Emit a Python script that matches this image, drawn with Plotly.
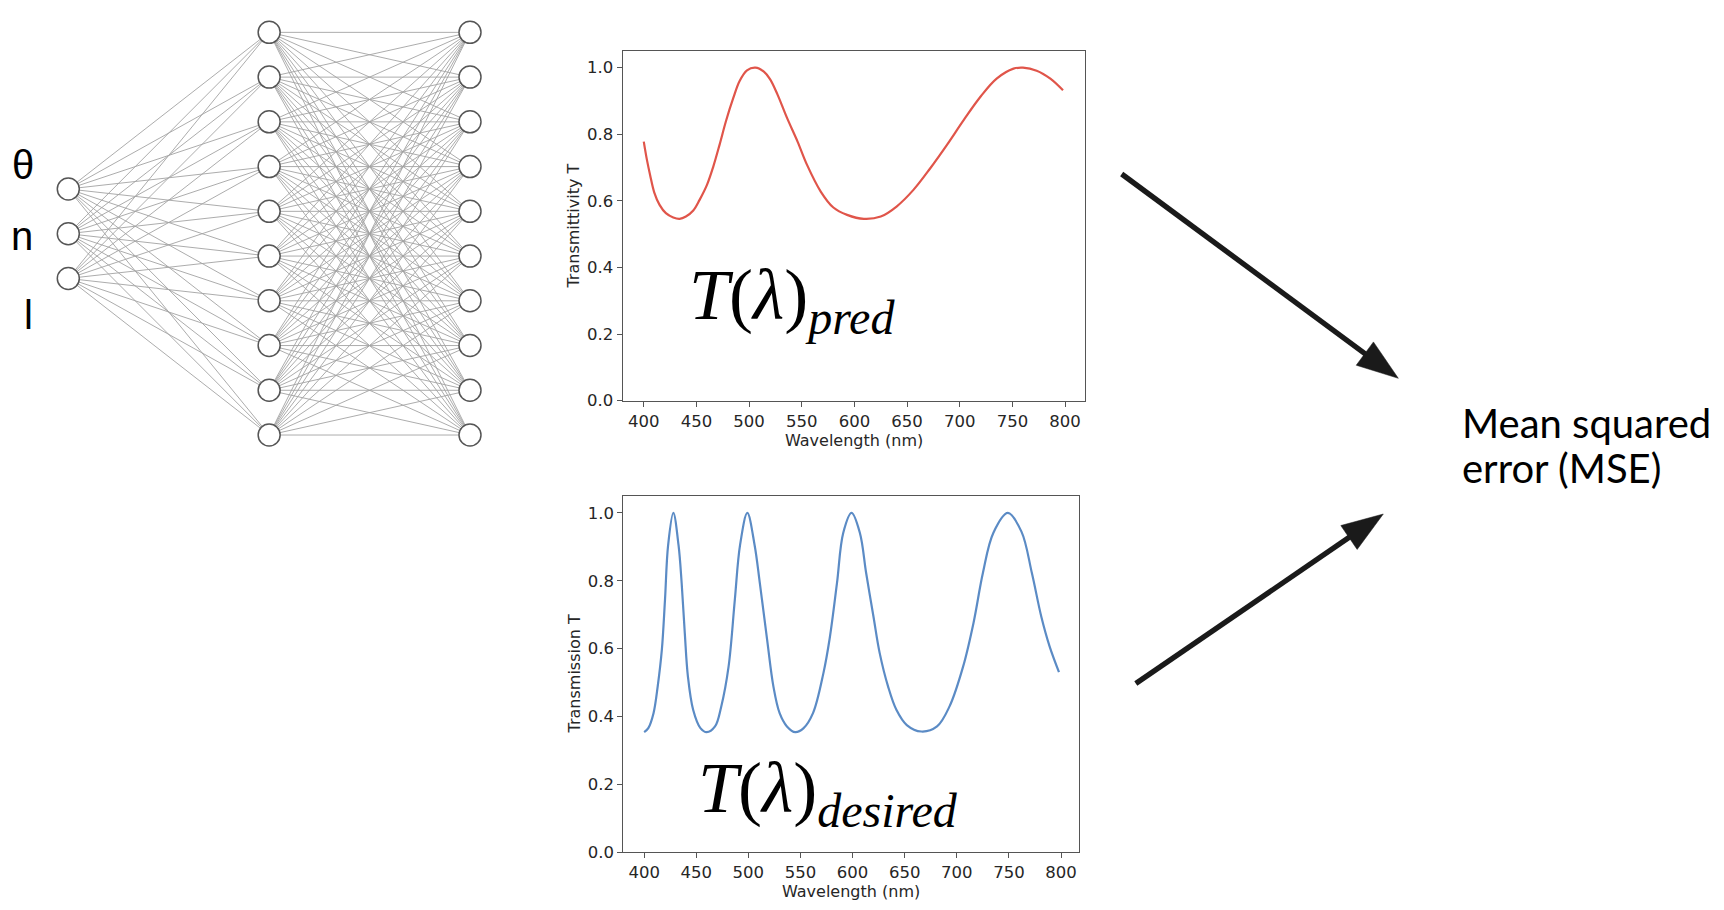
import math
import plotly.graph_objects as go

# predicted transmittivity (top panel)
wl_pred = [400, 403, 406, 410, 415, 421, 428, 434, 440, 447,
           453, 460, 466, 472, 478, 485, 491, 498, 506, 514,
           520, 527, 536, 546, 555, 568, 580, 593, 609, 625,
           640, 656, 672, 688, 704, 720, 735, 751, 760, 773,
           786, 798]
t_pred = [0.778, 0.723, 0.678, 0.625, 0.588, 0.563, 0.550, 0.546, 0.553, 0.571,
          0.603, 0.648, 0.703, 0.769, 0.839, 0.909, 0.960, 0.992, 1.0, 0.988,
          0.965, 0.919, 0.849, 0.778, 0.708, 0.628, 0.580, 0.558, 0.546, 0.553,
          0.583, 0.633, 0.698, 0.769, 0.844, 0.914, 0.967, 0.997, 1.0, 0.991,
          0.967, 0.932]

# desired transmission (bottom panel)
wl_desired = [400, 404, 409, 413, 417, 420, 423, 428, 433, 436,
              439, 442, 447, 454, 460, 468, 474, 481, 487, 492,
              499, 506, 511, 518, 524, 530, 537, 545, 553, 562,
              572, 578, 585, 591, 599, 607, 613, 620, 626, 634,
              642, 652, 666, 681, 693, 706, 716, 725, 735, 749,
              762, 772, 781, 789, 798]
t_desired = [0.354, 0.366, 0.41, 0.489, 0.597, 0.744, 0.905, 1.0, 0.905, 0.793,
             0.646, 0.518, 0.42, 0.366, 0.354, 0.371, 0.43, 0.547, 0.744, 0.905,
             1.0, 0.905, 0.793, 0.626, 0.489, 0.41, 0.371, 0.354, 0.366, 0.41,
             0.528, 0.63, 0.793, 0.941, 1.0, 0.941, 0.823, 0.695, 0.587, 0.489,
             0.42, 0.375, 0.356, 0.371, 0.43, 0.547, 0.676, 0.823, 0.941, 1.0,
             0.945, 0.823, 0.695, 0.607, 0.531]

x_ticks = [400, 450, 500, 550, 600, 650, 700, 750, 800]
y_ticks = [0.0, 0.2, 0.4, 0.6, 0.8, 1.0]

# network: input layer + two hidden layers
layer_sizes = [3, 10, 10]
input_names = ["θ", "n", "l"]

# positions below are measured on a 1724x910 picture; the page comes out a
# little taller than the window, so the figure is made 920 high to make up
W, H = 1724, 920
REF_W, REF_H = 1724, 910


def px(x):
    return x / REF_W


def py(y):
    return 1 - y / REF_H


fig = go.Figure()

# --- network edges and nodes
ex, ey = [], []
for l in range(len(layer_sizes) - 1):
    na, nb = layer_sizes[l], layer_sizes[l + 1]
    for a in range(na):
        for b in range(nb):
            ex += [l, l + 1, None]
            ey += [a - (na - 1) / 2, b - (nb - 1) / 2, None]
fig.add_trace(go.Scatter(x=ex, y=ey, mode="lines", xaxis="x3", yaxis="y3",
                         line=dict(color="#a3a3a3", width=0.9),
                         hoverinfo="skip", cliponaxis=False))

nx_, ny_ = [], []
for l, n in enumerate(layer_sizes):
    for i in range(n):
        nx_.append(l)
        ny_.append(i - (n - 1) / 2)
fig.add_trace(go.Scatter(x=nx_, y=ny_, mode="markers", xaxis="x3", yaxis="y3",
                         marker=dict(size=22, color="white",
                                     line=dict(color="#555555", width=1.5)),
                         hoverinfo="skip", cliponaxis=False))

# --- spectra
fig.add_trace(go.Scatter(x=wl_pred, y=t_pred, mode="lines",
                         line=dict(color="#e0554a", width=2.2, shape="spline", smoothing=1.0),
                         xaxis="x", yaxis="y"))
fig.add_trace(go.Scatter(x=wl_desired, y=t_desired, mode="lines",
                         line=dict(color="#5b8bc5", width=2.2, shape="spline", smoothing=1.0),
                         xaxis="x2", yaxis="y2"))

tick_font = dict(family="DejaVu Sans", size=16.5, color="#262626")
ax_style = dict(showline=True, linecolor="#555555", linewidth=1.2, mirror=True,
                ticks="outside", ticklen=5, tickwidth=1.2, tickcolor="#555555",
                showgrid=False, zeroline=False, tickfont=tick_font, fixedrange=True)

# network axes: 1 layer = 200.85 px, 1 node step = 44.74 px, centre row at y=233.7
layer_px, node_px, net_cx, net_cy = 200.85, 44.74, 68.3, 233.7
net_x0 = -net_cx / layer_px
net_y_top = -net_cy / node_px
net_y_bot = (REF_H - net_cy) / node_px

fig.update_layout(
    width=W, height=H,
    margin=dict(l=0, r=0, t=0, b=0),
    paper_bgcolor="white", plot_bgcolor="white",
    showlegend=False,
    xaxis=dict(domain=[px(622.7), px(1084.6)], range=[380, 818.5], anchor="y",
               tickvals=x_ticks, **ax_style),
    yaxis=dict(domain=[py(400.7), py(51)], range=[0, 1.05], anchor="x",
               tickvals=y_ticks, tickformat=".1f", **ax_style),
    xaxis2=dict(domain=[px(623.3), px(1079.3)], range=[380, 817.5], anchor="y2",
                tickvals=x_ticks, **ax_style),
    yaxis2=dict(domain=[py(852.3), py(496)], range=[0, 1.05], anchor="x2",
                tickvals=y_ticks, tickformat=".1f", **ax_style),
    xaxis3=dict(domain=[0, 0.3], range=[net_x0, net_x0 + 0.3 * REF_W / layer_px],
                visible=False, anchor="y3", fixedrange=True),
    yaxis3=dict(domain=[0, 1], range=[net_y_bot, net_y_top], visible=False,
                anchor="x3", fixedrange=True),
)

title_font = dict(family="DejaVu Sans", size=16, color="#262626")
for xr, yr, ytitle in [("x", "y", "Transmittivity T"), ("x2", "y2", "Transmission T")]:
    fig.add_annotation(text="Wavelength (nm)", xref=xr + " domain", yref=yr + " domain",
                       x=0.5, y=0, yshift=-39.4, showarrow=False,
                       xanchor="center", yanchor="middle", font=title_font)
    fig.add_annotation(text=ytitle, xref=xr + " domain", yref=yr + " domain",
                       x=0, y=0.5, xshift=-49, textangle=-90, showarrow=False,
                       xanchor="center", yanchor="middle", font=title_font)

# formula labels inside the panels
math_font = dict(family="Liberation Serif", size=72, color="black")
sub_style = '<span style="font-size:48px">{}</span>'
fig.add_annotation(text="<i>T</i>(<i>λ</i>)<sub><i>" + sub_style.format("pred") + "</i></sub>",
                   xref="paper", yref="paper", x=px(688), y=py(300),
                   xanchor="left", yanchor="middle", showarrow=False,
                   borderpad=0, font=math_font)
fig.add_annotation(text="<i>T</i>(<i>λ</i>)<sub><i>" + sub_style.format("desired") + "</i></sub>",
                   xref="paper", yref="paper", x=px(697), y=py(792),
                   xanchor="left", yanchor="middle", showarrow=False,
                   borderpad=0, font=math_font)

# input labels next to the network
for name, (lx, ly) in zip(input_names, [(22.5, 165), (22, 236), (28.3, 315)]):
    fig.add_annotation(text=name, xref="paper", yref="paper", x=px(lx), y=py(ly),
                       xanchor="center", yanchor="middle", showarrow=False,
                       font=dict(family="Liberation Sans", size=40, color="black"))

# MSE text, two lines
mse_font = dict(family="Lato", size=40, color="black")
for line, ly in [("Mean squared", 422.8), ("error (MSE)", 468.5)]:
    fig.add_annotation(text=line, xref="paper", yref="paper",
                       x=px(1461), y=py(ly), xanchor="left", yanchor="middle",
                       showarrow=False, borderpad=0, font=mse_font)

# arrows from both panels to the MSE text
arrows = [((1121.7, 174), (1398.3, 378.3)), ((1135.8, 683.5), (1383.3, 514))]
head_len, head_w = 41.6, 29
for (x0, y0), (x1, y1) in arrows:
    dx, dy = x1 - x0, y1 - y0
    d = math.hypot(dx, dy)
    ux, uy = dx / d, dy / d
    bx, by = x1 - ux * head_len, y1 - uy * head_len
    fig.add_shape(type="line", xref="paper", yref="paper",
                  x0=px(x0), y0=py(y0), x1=px(bx + ux * 3), y1=py(by + uy * 3),
                  line=dict(color="#1a1a1a", width=5.3))
    nxv, nyv = -uy, ux
    path = "M {},{} L {},{} L {},{} Z".format(
        px(x1), py(y1),
        px(bx + nxv * head_w / 2), py(by + nyv * head_w / 2),
        px(bx - nxv * head_w / 2), py(by - nyv * head_w / 2))
    fig.add_shape(type="path", path=path, xref="paper", yref="paper",
                  fillcolor="#1a1a1a", line=dict(color="#1a1a1a", width=0.5))

page_fix = ("document.documentElement.style.margin='0';"
            "document.body.style.margin='0';"
            "document.documentElement.style.overflow='hidden';"
            "document.body.style.overflow='hidden';")
fig.write_html("out.html", post_script=page_fix, config={"displayModeBar": False})
